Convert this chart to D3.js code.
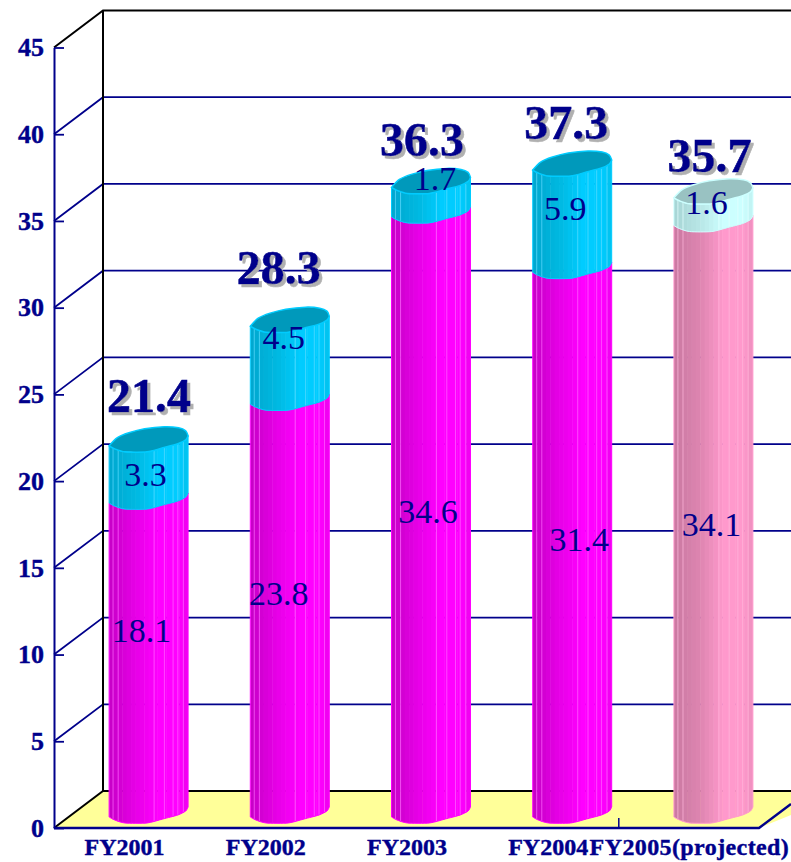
<!DOCTYPE html>
<html>
<head>
<meta charset="utf-8">
<script src="https://cdn.jsdelivr.net/npm/d3@7"></script>
<style>
html, body { margin: 0; padding: 0; background: #fff; overflow: hidden; }
svg { display: block; font-family: "Liberation Serif", serif; }
</style>
</head>
<body>
<script>
// Datos del grafico
const categories = ['FY2001', 'FY2002', 'FY2003', 'FY2004', 'FY2005(projected)'];
const lowerValues = [18.1, 23.8, 34.6, 31.4, 34.1];
const upperValues = [3.3, 4.5, 1.7, 5.9, 1.6];
const totals = [21.4, 28.3, 36.3, 37.3, 35.7];
const yTicks = [0, 5, 10, 15, 20, 25, 30, 35, 40, 45];

const w = 791;
const h = 862;
const navy = '#00008b';

// Profundidad de la caja 3D
const depthX = 49;
const depthY = 37;
const floorEnd = 760;
const barW = 79;
const barShift = 24;
const baseDrop = 11;

// Ajustes a mano de las etiquetas [dx, dy]
const totalNudge = [[0.5, -34], [-11, -42], [-9, -31], [-6, -31], [-4, -26]];
const lowerNudge = [[-7, -29], [-11, -17], [-3, -5], [7, -5], [-2, 4]];
const upperNudge = [[-3, 0], [-6, -27], [4, -23], [-7, -12], [-7, -9]];

// Forma de la seccion del cilindro [u, px]
const frontCurve = [[0, 0], [0.07, 3], [0.2, 6], [0.48, 6], [0.68, 2], [0.87, -2], [0.97, -6], [1, -10]];
const backCurve = [[1, -10], [0.97, -15], [0.88, -18], [0.7, -19], [0.45, -17], [0.25, -13], [0.1, -8], [0, 0]];
const edgeLines = [0.05, 0.115, 0.57, 0.7, 0.81, 0.87, 0.94];

const palettes = {
    magenta: { stops: ['#c800c8', '#e600e6', '#ff00ff', '#ff00ff', '#ea00ea'], line: '#ff66ff', cap: '#c000c0' },
    cyan: { stops: ['#00a8d0', '#00b8e0', '#00ccff', '#00ccff', '#00bee8'], line: '#5fdcff', cap: '#0099bb' },
    pink: { stops: ['#cc7aa3', '#dd85b0', '#ff99cc', '#ff99cc', '#e88cba'], line: '#ffb8dc', cap: '#cc7aa3' },
    pale: { stops: ['#a8d6d6', '#b8e6e6', '#ccffff', '#ccffff', '#bcecec'], line: '#e4ffff', cap: '#99c2c2' }
};

var svg = d3.select('body')
    .append('svg')
    .attr('width', w)
    .attr('height', h);

const x = d3.scaleBand().domain(categories).range([54, floorEnd]);
const y = d3.scaleLinear().domain([0, 45]).range([828, 47.5]);

const line = d3.line().curve(d3.curveCardinal.tension(0.3));

const defs = svg.append('defs');

// Sombra de los totales
defs.append('filter')
    .attr('id', 'sombra')
    .attr('x', '-10%').attr('y', '-10%')
    .attr('width', '130%').attr('height', '130%')
    .append('feDropShadow')
    .attr('dx', 3).attr('dy', 3)
    .attr('stdDeviation', 0.7)
    .attr('flood-color', '#b0b0b0');

// Suelo
svg.append('polygon')
    .attr('fill', '#ffff99')
    .attr('points', [
        [x.range()[0], y(0)],
        [x.range()[0] + depthX, y(0) - depthY],
        [w, y(0) - depthY],
        [w, y(0) - depthY + 24],
        [floorEnd - 1, y(0)]
    ].join(' '));

// Rejilla
svg.selectAll('.grid')
    .data(yTicks)
    .enter()
    .append('path')
    .attr('class', 'grid')
    .attr('fill', 'none')
    .attr('stroke', (d) => (d === 0 || d === 45) ? '#000' : navy)
    .attr('stroke-width', (d) => (d === 0 || d === 45) ? 2 : 1.8)
    .attr('d', (d) => `M54,${y(d)}L${54 + depthX},${y(d) - depthY}H${w}`);

// Pared del fondo
svg.append('line')
    .attr('x1', 54 + depthX).attr('x2', 54 + depthX)
    .attr('y1', y(45) - depthY).attr('y2', y(0) - depthY)
    .attr('stroke', '#000')
    .attr('stroke-width', 2);

// Eje Y
var yAxis = svg.append('g')
    .attr('transform', 'translate(54,0)')
    .call(d3.axisLeft(y).tickValues(yTicks).tickSizeInner(-10).tickSizeOuter(0).tickPadding(10));

yAxis.select('.domain').attr('stroke', navy).attr('stroke-width', 2);
yAxis.selectAll('.tick line').attr('stroke', navy).attr('stroke-width', 1.8);
yAxis.selectAll('text')
    .attr('fill', navy)
    .attr('stroke', navy)
    .attr('stroke-width', 0.4)
    .attr('font-family', '"Liberation Serif", serif')
    .attr('font-size', 26)
    .attr('font-weight', 'bold');

// Eje X
var xAxis = svg.append('g')
    .attr('transform', `translate(0,${y(0)})`)
    .call(d3.axisBottom(x).tickSize(0).tickPadding(10));

xAxis.select('.domain').remove();
xAxis.selectAll('text')
    .attr('fill', navy)
    .attr('stroke', navy)
    .attr('stroke-width', 0.4)
    .attr('font-family', '"Liberation Serif", serif')
    .attr('font-size', 24)
    .attr('font-weight', 'bold')
    .attr('letter-spacing', (d) => d.length > 6 ? 0.4 : 0);

svg.append('path')
    .attr('fill', 'none')
    .attr('stroke', navy)
    .attr('stroke-width', 2.5)
    .attr('d', `M54,${y(0)}H${floorEnd - 1}L${w},${y(0) - 24}`);

// Unica marca visible del eje X
svg.append('line')
    .attr('x1', x(categories[4])).attr('x2', x(categories[4]))
    .attr('y1', y(0)).attr('y2', y(0) - 10)
    .attr('stroke', navy)
    .attr('stroke-width', 1.5);

const barLeft = (i) => x(categories[i]) + x.bandwidth() / 2 + barShift - barW / 2;
const edgeY = (v) => y(v) - baseDrop;

function curvePts(curve, i, v) {
    return curve.map((p) => [barLeft(i) + p[0] * barW, edgeY(v) + p[1]]);
}

function drawSegment(i, v0, v1, pal, name) {
    const bottom = curvePts(frontCurve, i, v0).reverse();
    const top = curvePts(frontCurve, i, v1);
    const outline = line(top) + 'L' + line(bottom).slice(1) + 'Z';
    const id = `clip-${name}-${i}`;

    defs.append('clipPath').attr('id', id).append('path').attr('d', outline);

    var g = svg.append('g');
    var body = g.append('g').attr('clip-path', `url(#${id})`);

    const color = d3.scaleLinear().domain([0, 0.3, 0.6, 0.86, 1]).range(pal.stops);
    const strips = d3.range(0, 1, 1 / 18);

    body.selectAll('.strip')
        .data(strips)
        .enter()
        .append('rect')
        .attr('class', 'strip')
        .attr('x', (d) => barLeft(i) + d * barW)
        .attr('width', barW / 18 + 0.5)
        .attr('y', edgeY(v1) - 25)
        .attr('height', edgeY(v0) - edgeY(v1) + 50)
        .attr('fill', (d) => color(d));

    body.selectAll('.edge')
        .data(edgeLines)
        .enter()
        .append('line')
        .attr('class', 'edge')
        .attr('x1', (d) => barLeft(i) + d * barW)
        .attr('x2', (d) => barLeft(i) + d * barW)
        .attr('y1', edgeY(v1) - 25)
        .attr('y2', edgeY(v0) + 25)
        .attr('stroke', pal.line)
        .attr('stroke-opacity', 0.7)
        .attr('stroke-width', 1);

    g.append('path')
        .attr('d', outline)
        .attr('fill', 'none')
        .attr('stroke', pal.stops[2])
        .attr('stroke-width', 1);
}

function drawCap(i, v, pal) {
    const front = curvePts(frontCurve, i, v);
    const back = curvePts(backCurve, i, v);
    svg.append('path')
        .attr('d', line(front) + 'L' + line(back).slice(1) + 'Z')
        .attr('fill', pal.cap)
        .attr('stroke', pal.stops[2])
        .attr('stroke-width', 1.5);
}

// Barras
categories.forEach((c, i) => {
    const projected = i === categories.length - 1;
    const palLow = projected ? palettes.pink : palettes.magenta;
    const palUp = projected ? palettes.pale : palettes.cyan;
    const stackTop = lowerValues[i] + upperValues[i];
    drawSegment(i, 0, lowerValues[i], palLow, 'low');
    drawSegment(i, lowerValues[i], stackTop, palUp, 'up');
    drawCap(i, stackTop, palUp);
});

const barCenter = (i) => barLeft(i) + barW / 2;

function segmentLabel(values, base, nudge) {
    svg.selectAll(null)
        .data(values)
        .enter()
        .append('text')
        .attr('x', (d, i) => barCenter(i) + nudge[i][0])
        .attr('y', (d, i) => edgeY(base(i) + d / 2) + nudge[i][1])
        .attr('dy', '0.33em')
        .attr('text-anchor', 'middle')
        .attr('font-size', 34)
        .attr('fill', navy)
        .text((d) => d.toFixed(1));
}

segmentLabel(lowerValues, () => 0, lowerNudge);
segmentLabel(upperValues, (i) => lowerValues[i], upperNudge);

// Totales con sombra
svg.selectAll(null)
    .data(totals)
    .enter()
    .append('text')
    .attr('x', (d, i) => barCenter(i) + totalNudge[i][0])
    .attr('y', (d, i) => edgeY(d) + totalNudge[i][1])
    .attr('text-anchor', 'middle')
    .attr('font-size', 48)
    .attr('font-weight', 'bold')
    .attr('fill', navy)
    .attr('stroke', navy)
    .attr('stroke-width', 0.6)
    .attr('filter', 'url(#sombra)')
    .text((d) => d.toFixed(1));
</script>
</body>
</html>
